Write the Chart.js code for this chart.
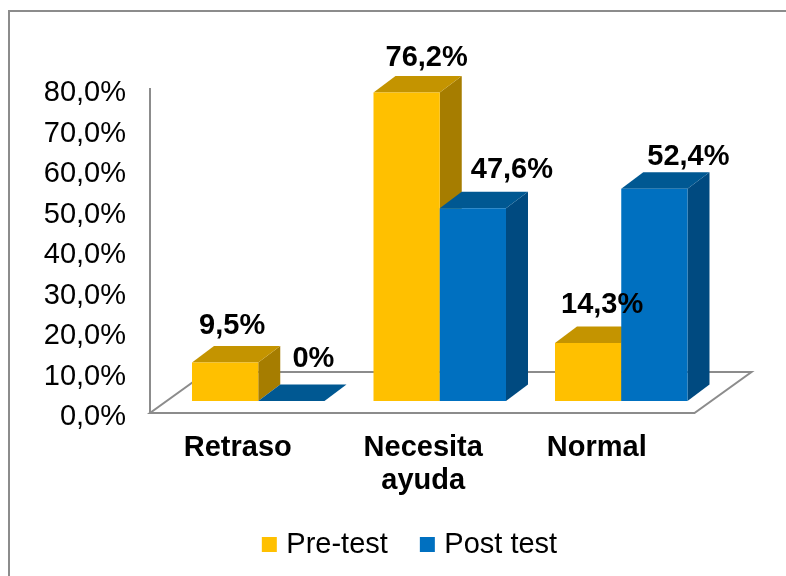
<!DOCTYPE html>
<html>
<head>
<meta charset="utf-8">
<style>html,body{margin:0;padding:0;background:#fff}canvas{display:block}</style>
<script src="https://cdn.jsdelivr.net/npm/chart.js@4"></script>
</head>
<body>
<canvas id="c" width="786" height="576"></canvas>
<script>
const categories = ['Retraso', ['Necesita', 'ayuda'], 'Normal'];
const preTest = [9.5, 76.2, 14.3];
const postTest = [0, 47.6, 52.4];
const preTestLabels = ['9,5%', '76,2%', '14,3%'];
const postTestLabels = ['0%', '47,6%', '52,4%'];

// layout and style constants
const FONT = '"Liberation Sans", Arial, sans-serif';
const FONT_SIZE = 29;
const GREY = '#8c8c8c';
const BAR_SHIFT = {x: 17.5, y: -12};
const BAR_DEPTH = {x: 22, y: -16.5};
const FLOOR_DEPTH = {x: 57, y: -41};
const preNudge = [[7, -37], [20, -34], [14, -38]];
const postNudge = [[22, -42], [39, -38], [34, -32]];
const catNudge = [-3, 1, -7];
const Y_LABEL_SHIFT = 4;
const faces = [
  {front: '#FFC000', side: '#A67D00', top: '#C49400'},
  {front: '#0070C0', side: '#004A80', top: '#005892'}
];

function poly(ctx, pts, fill) {
  ctx.beginPath();
  pts.forEach((p, i) => i ? ctx.lineTo(p[0], p[1]) : ctx.moveTo(p[0], p[1]));
  ctx.closePath();
  ctx.fillStyle = fill;
  ctx.fill();
}

const scene = {
  id: 'scene',
  beforeLayout(chart) {
    const lg = chart.legend;
    if (lg && !lg._fixed) {
      const fit = lg.fit;
      lg.fit = function () { fit.call(this); this.height = 10; };
      lg._fixed = true;
    }
  },
  afterLayout(chart) {
    const lg = chart.legend;
    lg.left = 19; lg.right = 786 + 19;
    lg.top = 493;
  },
  beforeDraw(chart) {
    const ctx = chart.ctx;
    ctx.save();
    ctx.fillStyle = '#fff';
    ctx.fillRect(0, 0, chart.width, chart.height);
    // outer frame
    ctx.strokeStyle = GREY;
    ctx.lineWidth = 2;
    ctx.beginPath();
    ctx.moveTo(9, 576); ctx.lineTo(9, 11); ctx.lineTo(786, 11);
    ctx.stroke();
    // floor of the 3D box
    const a = chart.chartArea;
    ctx.lineWidth = 2;
    ctx.beginPath();
    ctx.moveTo(a.left, a.bottom);
    ctx.lineTo(a.right, a.bottom);
    ctx.lineTo(a.right + FLOOR_DEPTH.x, a.bottom + FLOOR_DEPTH.y);
    ctx.lineTo(a.left + FLOOR_DEPTH.x, a.bottom + FLOOR_DEPTH.y);
    ctx.closePath();
    ctx.stroke();
    ctx.restore();
    // nudge axis labels to where the reference has them
    const xs = chart.scales.x;
    xs.getLabelItems().forEach((it, i) => {
      it.options.translation[0] = xs.getPixelForTick(i) + catNudge[i];
    });
    const ys = chart.scales.y;
    ys.getLabelItems().forEach((it, i) => {
      it.options.translation[1] = ys.getPixelForTick(i) + Y_LABEL_SHIFT;
    });
  },
  beforeDatasetsDraw(chart) {
    const ctx = chart.ctx;
    const metas = [chart.getDatasetMeta(0), chart.getDatasetMeta(1)];
    ctx.save();
    ctx.translate(BAR_SHIFT.x, BAR_SHIFT.y);
    categories.forEach((_, i) => {
      metas.forEach((meta, d) => {
        const el = meta.data[i];
        const half = el.width / 2;
        const l = el.x - half, r = el.x + half, t = el.y, b = el.base;
        const dx = BAR_DEPTH.x, dy = BAR_DEPTH.y;
        poly(ctx, [[r, t], [r + dx, t + dy], [r + dx, b + dy], [r, b]], faces[d].side);
        poly(ctx, [[l, t], [r, t], [r + dx, t + dy], [l + dx, t + dy]], faces[d].top);
        el.draw(ctx);
      });
    });
    ctx.restore();
    // value labels
    ctx.save();
    ctx.font = 'bold ' + FONT_SIZE + 'px ' + FONT;
    ctx.textAlign = 'center';
    ctx.textBaseline = 'middle';
    ctx.fillStyle = '#000';
    [[preTestLabels, preNudge], [postTestLabels, postNudge]].forEach(([txt, nudge], d) => {
      metas[d].data.forEach((el, i) => {
        ctx.fillText(txt[i], el.x + BAR_SHIFT.x + nudge[i][0], el.y + BAR_SHIFT.y + nudge[i][1]);
      });
    });
    ctx.restore();
    return false;
  }
};

new Chart(document.getElementById('c'), {
  type: 'bar',
  data: {
    labels: categories,
    datasets: [
      {label: 'Pre-test', data: preTest, backgroundColor: faces[0].front, borderWidth: 0,
       barPercentage: 1, categoryPercentage: 0.73},
      {label: 'Post test', data: postTest, backgroundColor: faces[1].front, borderWidth: 0,
       barPercentage: 1, categoryPercentage: 0.73}
    ]
  },
  options: {
    responsive: false,
    animation: false,
    events: [],
    layout: {padding: {left: 30, top: 89, right: 91.5, bottom: 10}},
    plugins: {
      tooltip: {enabled: false},
      legend: {
        display: true,
        position: 'bottom',
        labels: {
          font: {family: FONT, size: FONT_SIZE},
          color: '#000',
          boxWidth: 5,
          boxHeight: 5,
          padding: 37,
          generateLabels(chart) {
            return chart.data.datasets.map((ds, i) => ({
              text: ds.label,
              fillStyle: ds.backgroundColor,
              strokeStyle: ds.backgroundColor,
              lineWidth: 10,
              datasetIndex: i,
              hidden: false
            }));
          }
        }
      }
    },
    scales: {
      x: {
        afterFit(s) { s.height = 143; },
        grid: {display: false, drawTicks: false},
        border: {display: false},
        ticks: {
          autoSkip: false, maxRotation: 0, minRotation: 0, padding: 18,
          color: '#000',
          font: {family: FONT, size: FONT_SIZE, weight: 'bold', lineHeight: 1.15}
        }
      },
      y: {
        min: 0, max: 80,
        afterFit(s) { s.width = 120; },
        grid: {display: false, drawTicks: false},
        border: {display: true, color: GREY, width: 2},
        ticks: {
          stepSize: 10, padding: 24, color: '#000',
          font: {family: FONT, size: FONT_SIZE},
          callback: v => v.toFixed(1).replace('.', ',') + '%'
        }
      }
    }
  },
  plugins: [scene]
});
</script>
</body>
</html>
